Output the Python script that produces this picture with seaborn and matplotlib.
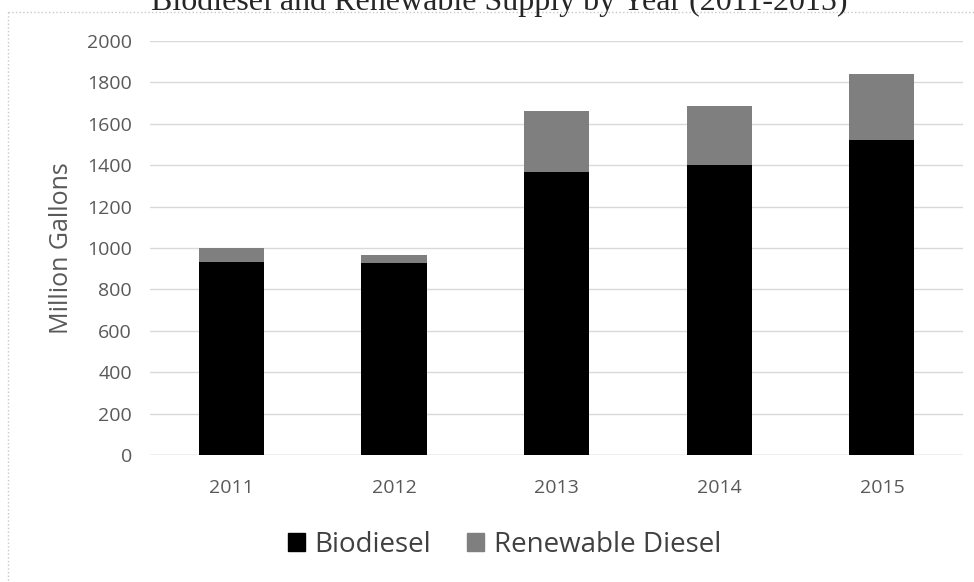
import matplotlib.pyplot as plt
import matplotlib.patches as mpatches
from matplotlib.lines import Line2D
import pandas as pd
import seaborn as sns

years = ["2011", "2012", "2013", "2014", "2015"]
biodiesel = [935, 928, 1369, 1399, 1523]
renewable = [63, 38, 293, 287, 318]

df = pd.DataFrame({"Year": years, "Biodiesel": biodiesel, "Renewable Diesel": renewable})
df["Total"] = df["Biodiesel"] + df["Renewable Diesel"]

sns.set_style("white")
plt.rcParams["font.family"] = ["Open Sans", "DejaVu Sans"]

fig = plt.figure(figsize=(9.74, 5.82), dpi=100)
ax = fig.add_axes([0.154, 0.218, 0.835, 0.7116])

grey = "#7f7f7f"
sns.barplot(data=df, x="Year", y="Total", color=grey, width=0.4, ax=ax,
            saturation=1, zorder=3, linewidth=0)
sns.barplot(data=df, x="Year", y="Biodiesel", color="black", width=0.4, ax=ax,
            saturation=1, zorder=3, linewidth=0)

ax.set_ylim(0, 2000)
ax.set_yticks(range(0, 2001, 200))
ax.yaxis.grid(True, color="#d9d9d9", linewidth=1, zorder=0)
for s in ax.spines.values():
    s.set_visible(False)
ax.axhline(0, color="#d0d0d0", linewidth=1, zorder=2)
ax.tick_params(axis="both", length=0, labelsize=14, labelcolor="#595959")
ax.tick_params(axis="y", pad=13)
ax.tick_params(axis="x", pad=17)
ax.set_xlabel("")
ax.set_ylabel("Million Gallons", fontsize=18, color="#595959", labelpad=9)

handles = [mpatches.Patch(color="black", label="Biodiesel"),
           mpatches.Patch(color=grey, label="Renewable Diesel")]
fig.legend(handles=handles, loc="center", bbox_to_anchor=(0.518, 0.064), ncol=2,
           frameon=False, fontsize=20, handlelength=0.6, handleheight=0.6,
           handletextpad=0.35, columnspacing=1.3, labelcolor="#404040")

# title sits partly above the top edge, as in the source image
fig.text(0.513, 1 - 10 / 582, "Biodiesel and Renewable Supply by Year (2011-2015)",
         ha="center", va="baseline", fontsize=23, family="Liberation Serif")

# chart frame (top and left edges visible)
fig.add_artist(Line2D([0.008, 1.0], [1 - 12 / 582, 1 - 12 / 582], color="#c8c8c8",
                      linewidth=1, linestyle=":", transform=fig.transFigure))
fig.add_artist(Line2D([0.008, 0.008], [1 - 12 / 582, 0.0], color="#c8c8c8",
                      linewidth=1, linestyle=":", transform=fig.transFigure))

fig.savefig("out.png", dpi=100)
